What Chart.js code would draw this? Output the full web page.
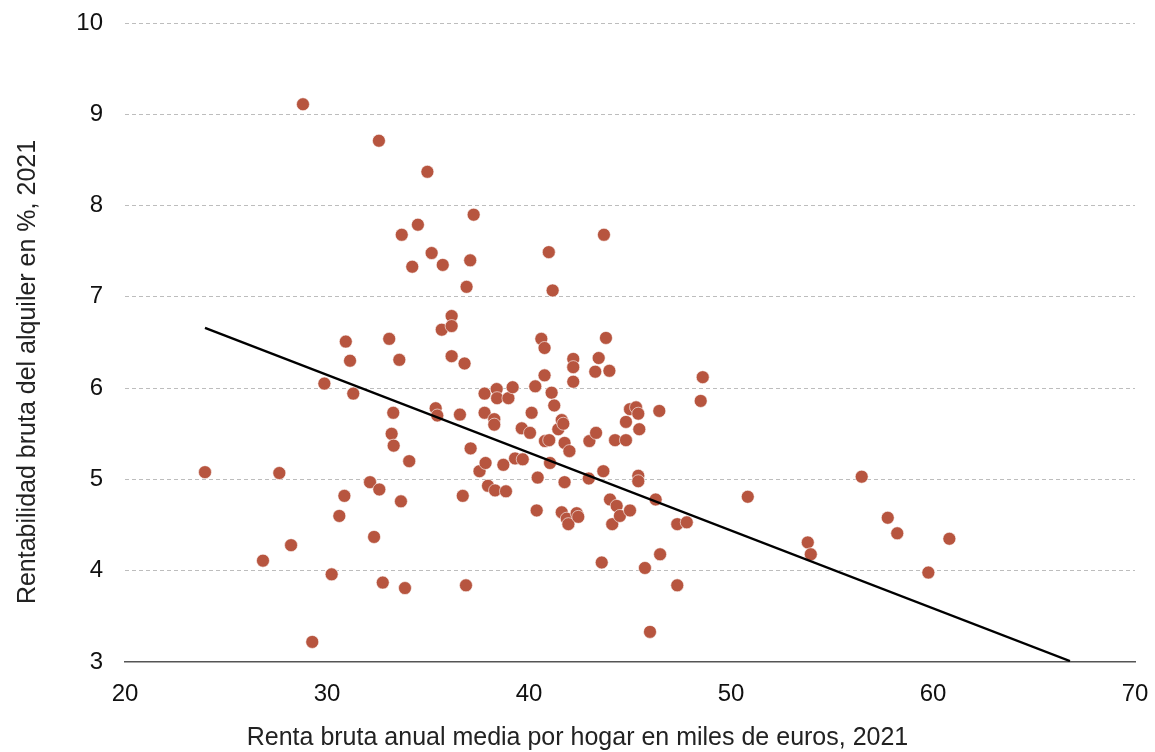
<!DOCTYPE html>
<html><head><meta charset="utf-8">
<script src="https://cdn.jsdelivr.net/npm/chart.js@4.4.0/dist/chart.umd.min.js"></script>
<style>html,body{margin:0;padding:0;background:#fff;}#wrap{width:1155px;height:752px;}</style>
</head><body><div id="wrap"><canvas id="c" width="1155" height="752"></canvas></div>
<script>
const incomeK = [23.96,26.83,27.64,28.22,28.81,29.27,29.87,30.23,30.61,30.86,30.93,31.14,31.30,32.13,32.33,32.57,32.59,32.76,33.08,33.20,33.28,33.30,33.58,33.70,33.66,33.86,34.07,34.22,34.50,34.97,35.18,35.38,35.46,35.68,35.73,
36.17,36.17,36.17,36.58,36.72,36.81,36.91,36.88,37.09,37.11,37.26,37.55,37.80,37.80,37.85,37.97,38.28,38.28,38.32,38.40,38.42,38.73,38.86,38.98,39.19,39.31,39.64,39.69,40.05,40.13,40.31,40.38,40.43,40.61,40.77,40.77,40.79,41.00,40.98,41.04,41.12,41.17,41.25,41.45,41.62,41.70,41.62,41.76,41.76,41.87,41.95,42.00,42.19,42.19,42.19,42.36,42.44,42.96,42.99,43.28,43.32,43.45,43.60,43.68,43.71,43.81,43.98,44.01,44.12,44.26,44.34,44.50,44.80,44.80,45.00,45.00,45.30,45.41,45.41,45.41,45.46,45.74,45.99,46.27,46.45,46.49,47.34,47.34,47.81,48.50,48.60,50.83,53.80,53.95,56.47,57.76,58.23,59.77,60.81];
const rentYield = [5.08,4.11,5.07,4.28,9.11,3.22,6.05,3.96,4.60,4.82,6.51,6.30,5.94,4.97,4.37,8.71,4.89,3.87,6.54,5.50,5.73,5.37,6.31,7.68,4.76,3.81,5.20,7.33,7.79,8.37,7.48,5.78,5.70,6.64,7.35,
6.79,6.68,6.35,5.71,4.82,6.27,7.11,3.84,7.40,5.34,7.90,5.09,5.94,5.73,5.18,4.93,5.66,5.60,4.88,5.99,5.89,5.16,4.87,5.89,6.01,5.23,5.56,5.22,5.51,5.73,6.02,4.66,5.02,6.54,6.44,6.14,5.42,5.43,7.49,5.18,5.95,7.07,5.81,5.55,5.65,5.61,4.64,5.40,4.97,4.57,4.51,5.31,6.32,6.23,6.07,4.63,4.59,5.01,5.42,6.18,5.51,6.33,4.09,5.09,7.68,6.55,6.19,4.78,4.51,5.43,4.71,4.60,5.43,5.63,5.77,4.66,5.79,5.72,5.04,4.98,5.55,4.03,3.33,4.78,5.75,4.18,4.51,3.84,4.53,5.86,6.12,4.81,4.31,4.18,5.03,4.58,4.41,3.98,4.35];
const trendX = [23.96, 66.78];
const trendY = [6.66, 3.01];
const xTicks = [20,30,40,50,60,70];
const yTicks = [3,4,5,6,7,8,9,10];
const xTitle = 'Renta bruta anual media por hogar en miles de euros, 2021';
const yTitle = 'Rentabilidad bruta del alquiler en %, 2021';

const FONT = '"Liberation Sans", Arial, Helvetica, sans-serif';
const scatterData = incomeK.map((x,i)=>({x, y: rentYield[i]}));
const trendData = trendX.map((x,i)=>({x, y: trendY[i]}));
const CLEAR = 'rgba(0,0,0,0)';

new Chart(document.getElementById('c'), {
  type: 'scatter',
  data: { datasets: [
    { type:'line', data: trendData, borderColor:'#000', borderWidth:2.3, pointRadius:0, fill:false, order:0, tension:0 },
    { type:'scatter', data: scatterData, pointRadius:6.5, pointHoverRadius:6.5,
      backgroundColor:'#B7553F', borderColor:'rgba(255,255,255,0.75)', borderWidth:0.8, order:1 }
  ]},
  options: {
    responsive:false, animation:false,
    layout:{ padding:{ left:20, right:20, top:23, bottom:31 } },
    plugins:{
      legend:{ display:false }, tooltip:{ enabled:false },
      title:{ display:true, position:'bottom', text:xTitle, color:'#222',
        font:{ family:FONT, size:25, weight:'normal', lineHeight:1.2 }, padding:{ top:10, bottom:-32 } },
      subtitle:{ display:true, position:'left', text:yTitle, color:'#222',
        font:{ family:FONT, size:25, weight:'normal', lineHeight:1.2 }, padding:{ top:-7, bottom:0 } }
    },
    scales:{
      x:{ type:'linear', min:20, max:70,
        afterBuildTicks: s => { s.ticks = xTicks.map(v=>({value:v})); },
        afterFit: s => { s.height = 51; },
        grid:{ display:true, color:CLEAR, drawTicks:true, tickLength:18, tickColor:CLEAR, drawOnChartArea:false },
        border:{ display:true, color:'#555', width:1.5 },
        ticks:{ padding:0, color:'#111', font:{ family:FONT, size:24 }, maxRotation:0 }
      },
      y:{ type:'linear', min:3, max:10,
        afterBuildTicks: s => { s.ticks = yTicks.map(v=>({value:v})); },
        afterFit: s => { s.width = 82; },
        grid:{ drawTicks:true, tickLength:22, tickColor:CLEAR,
          color: c => (c.tick && c.tick.value === 3) ? CLEAR : '#bdbdbd', lineWidth:1 },
        border:{ display:false, dash:[4,3] },
        ticks:{ padding:0, color:'#111', font:{ family:FONT, size:24 } }
      }
    }
  }
});
</script></body></html>
